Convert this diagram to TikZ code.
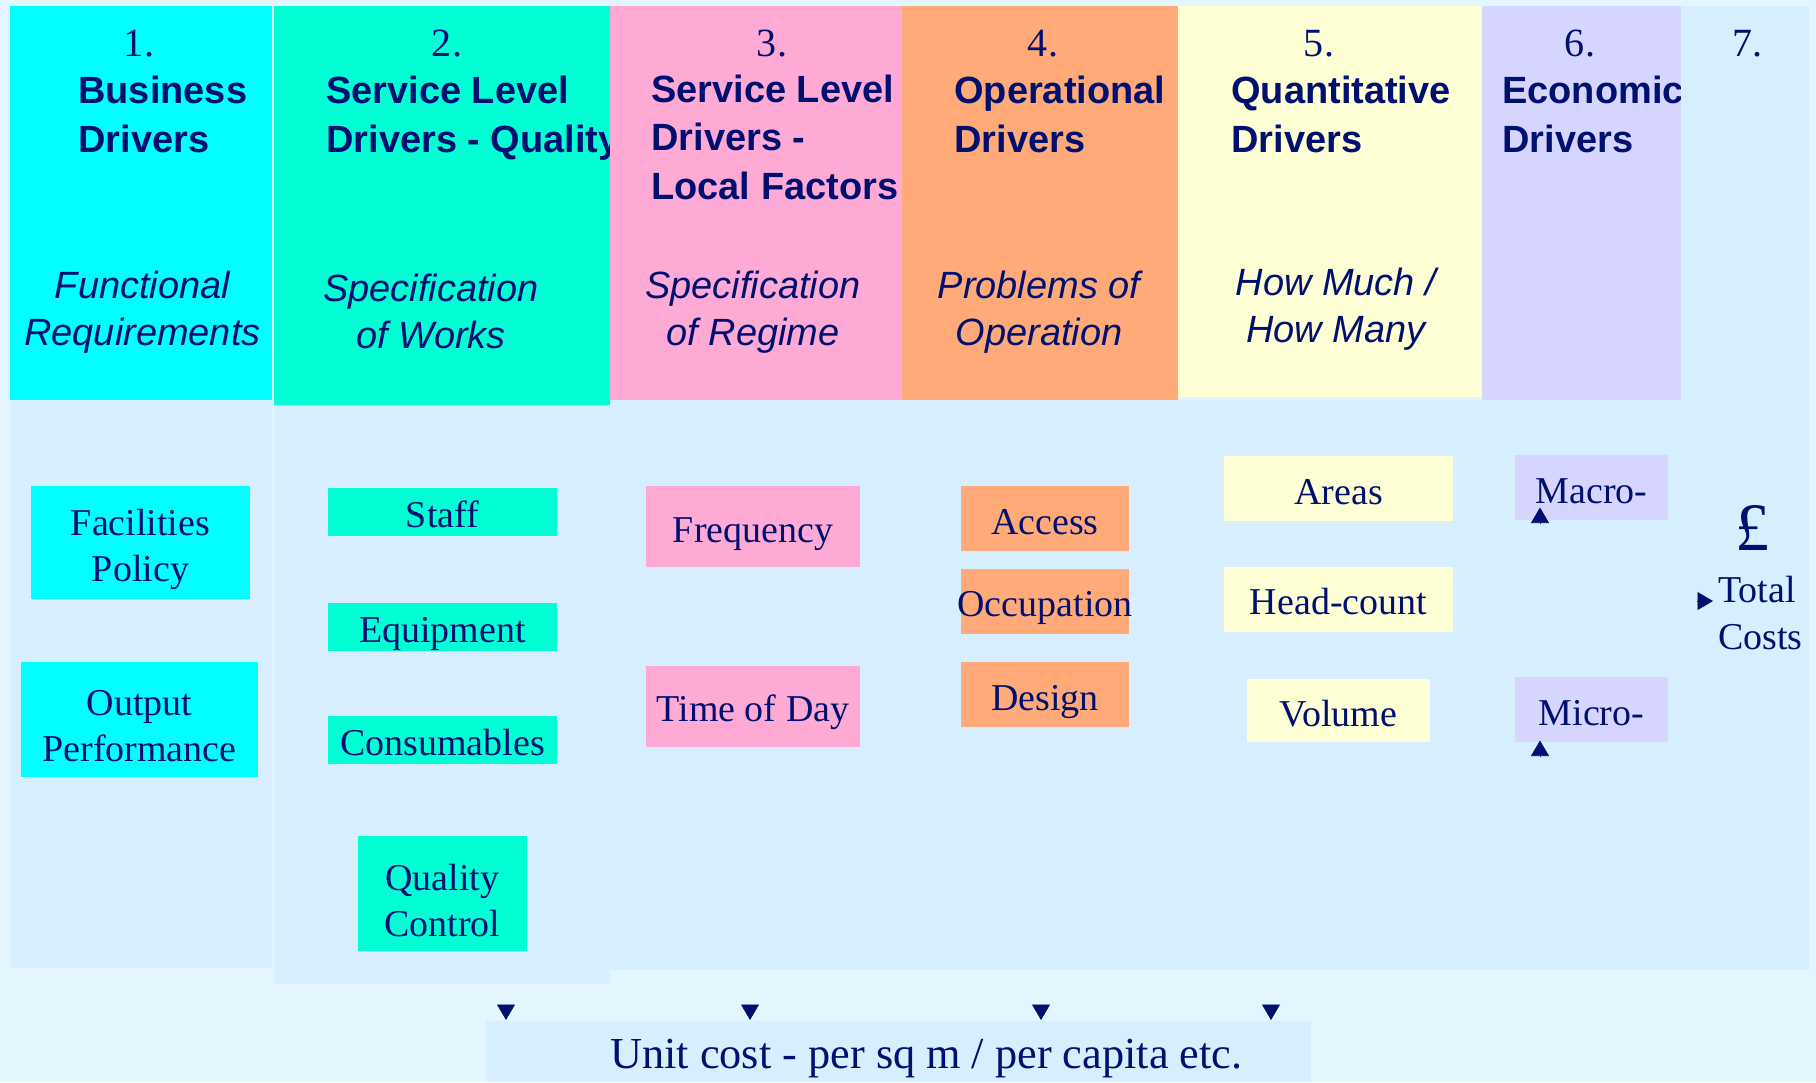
\documentclass[tikz,border=0pt]{standalone}
\usepackage{fontspec}
\setmainfont{Liberation Serif}
\setsansfont{Liberation Sans}
\usetikzlibrary{arrows.meta}

\definecolor{ink}{RGB}{0,16,112}
\definecolor{page}{RGB}{227,245,254}
\definecolor{panel}{RGB}{214,238,253}
\definecolor{cyanhead}{RGB}{0,255,255}
\definecolor{aquahead}{RGB}{0,255,213}
\definecolor{pinkhead}{RGB}{255,170,213}
\definecolor{orangehead}{RGB}{255,170,120}
\definecolor{creamhead}{RGB}{255,255,213}
\definecolor{lilachead}{RGB}{213,213,255}

\begin{document}
\begin{tikzpicture}[>={Triangle[width=0.36cm,length=0.31cm]},
    num/.style={text=ink, font=\fontsize{22.8}{27}\selectfont, anchor=base, inner sep=0},
    title/.style={text=ink, font=\sffamily\bfseries\fontsize{21.6}{27.4}\selectfont, align=left, anchor=base west, inner sep=0},
    sub/.style={text=ink, font=\sffamily\itshape\fontsize{21.6}{26.7}\selectfont, align=center, anchor=base, inner sep=0},
    item/.style={text=ink, font=\fontsize{21.6}{26.2}\selectfont, align=center, inner sep=0},
    line/.style={text height=21pt, text depth=3pt},   % one-line boxes sit a bit low
    tip/.style={->, ink}]
    \useasboundingbox (0,0) rectangle (36.32,-21.64);
    \fill[page] (0,0) rectangle (36.32,-21.64);

    % lower panels under the headings
    \fill[panel] (0.2,-8) rectangle (5.44,-19.36);
    \fill[panel] (5.48,-8.1) rectangle (12.2,-19.68);
    \fill[panel] (12.2,-8) rectangle (36.18,-19.4);

    % 1. business  (base of a two-line node = last line)
    \fill[cyanhead] (0.2,-0.12) rectangle (5.44,-8);
    \node[num] (num1) at (2.78,-1.12) {1.};
    \node[title] (title1) at (1.56,-3.04) {Business\\Drivers};
    \node[sub] (sub1) at (2.85,-6.9) {Functional\\Requirements};

    % 2. quality
    \fill[aquahead] (5.48,-0.12) rectangle (12.2,-8.1);
    \node[num] (num2) at (8.94,-1.12) {2.};
    \node[title] (title2) at (6.52,-3.04) {Service Level\\Drivers - Quality};
    \node[sub] (sub2) at (8.62,-6.96) {Specification\\of Works};

    % 3. local factors (covers the end of "Quality")
    \fill[pinkhead] (12.2,-0.12) rectangle (18.04,-8);
    \node[num] (num3) at (15.44,-1.12) {3.};
    \node[title] (title3) at (13.02,-3.98) {Service Level\\Drivers -\\Local Factors};
    \node[sub] (sub3) at (15.06,-6.9) {Specification\\of Regime};

    % 4. operational
    \fill[orangehead] (18.04,-0.12) rectangle (23.56,-8);
    \node[num] (num4) at (20.86,-1.12) {4.};
    \node[title] (title4) at (19.08,-3.04) {Operational\\Drivers};
    \node[sub] (sub4) at (20.78,-6.9) {Problems of\\Operation};

    % 5. quantitative
    \fill[creamhead] (23.56,-0.12) rectangle (29.64,-7.94);
    \node[num] (num5) at (26.38,-1.12) {5.};
    \node[title] (title5) at (24.62,-3.04) {Quantitative\\Drivers};
    \node[sub] (sub5) at (26.72,-6.84) {How Much /\\How Many};

    % 6. economic
    \fill[lilachead] (29.64,-0.12) rectangle (33.62,-8);
    \node[num] (num6) at (31.6,-1.12) {6.};
    \node[title] (title6) at (30.04,-3.04) {Economic\\Drivers};

    % 7. total, full height strip
    \fill[panel] (33.62,-0.12) rectangle (36.18,-19.4);
    \node[num] (num7) at (34.94,-1.12) {7.};

    % driver boxes
    \node[item, fill=cyanhead, minimum width=4.38cm, minimum height=2.26cm] (policy) at (2.81,-10.85) {\rule{0pt}{1.05em}Facilities\\Policy};
    \node[item, fill=cyanhead, minimum width=4.74cm, minimum height=2.3cm] (output) at (2.79,-14.39) {\rule{0pt}{1.0em}Output\\Performance};

    \node[item, line, fill=aquahead, minimum width=4.58cm, minimum height=0.96cm] (staff) at (8.85,-10.24) {Staff};
    \node[item, line, fill=aquahead, minimum width=4.58cm, minimum height=0.96cm] (equipment) at (8.85,-12.53) {Equipment};
    \node[item, line, fill=aquahead, minimum width=4.58cm, minimum height=0.96cm] (consumables) at (8.85,-14.8) {Consumables};
    \node[item, fill=aquahead, minimum width=3.38cm, minimum height=2.3cm] (quality) at (8.85,-17.87) {\rule{0pt}{1.05em}Quality\\Control};

    \node[item, line, fill=pinkhead, minimum width=4.28cm, minimum height=1.62cm] (frequency) at (15.06,-10.53) {Frequency};
    \node[item, line, fill=pinkhead, minimum width=4.28cm, minimum height=1.62cm] (timeofday) at (15.06,-14.12) {Time of Day};

    \node[item, line, fill=orangehead, minimum width=3.36cm, minimum height=1.3cm] (access) at (20.9,-10.37) {Access};
    \node[item, line, fill=orangehead, minimum width=3.36cm, minimum height=1.3cm] (occupation) at (20.9,-12.02) {\makebox[0pt]{Occupation}};
    \node[item, line, fill=orangehead, minimum width=3.36cm, minimum height=1.3cm] (design) at (20.9,-13.89) {Design};

    \node[item, line, fill=creamhead, minimum width=4.58cm, minimum height=1.3cm] (areas) at (26.77,-9.77) {Areas};
    \node[item, line, fill=creamhead, minimum width=4.58cm, minimum height=1.3cm] (headcount) at (26.77,-11.98) {Head-count};
    \node[item, line, fill=creamhead, minimum width=3.66cm, minimum height=1.26cm] (volume) at (26.77,-14.21) {Volume};

    \node[item, line, fill=lilachead, minimum width=3.06cm, minimum height=1.3cm] (macro) at (31.83,-9.75) {Macro-};
    \node[item, line, fill=lilachead, minimum width=3.06cm, minimum height=1.3cm] (micro) at (31.83,-14.19) {Micro-};

    % total costs
    \node[num, font=\fontsize{38.7}{40}\selectfont] (pound) at (35.04,-11.0) {£};
    \node[item, align=left, anchor=base west] (total) at (34.36,-12.98) {Total\\Costs};

    % unit cost bar at the bottom
    \node[fill=panel, minimum width=16.5cm, minimum height=1.22cm, inner sep=0] (unitbox) at (17.97,-21.03) {};
    \node[text=ink, font=\fontsize{25.2}{30}\selectfont, anchor=base west, inner sep=0] (unitcost) at (12.2,-21.36) {Unit cost - per sq m / per capita etc.};

    % arrow heads only
    \foreach \x in {10.12,15,20.82,25.42}
        \draw[tip] (\x,-20.09) -- (\x,-20.4);
    \draw[tip] (30.8,-10.46) -- (30.8,-10.15);
    \draw[tip] (30.8,-15.12) -- (30.8,-14.81);
    \draw[tip] (33.94,-12.02) -- (34.26,-12.02);
\end{tikzpicture}
\end{document}
